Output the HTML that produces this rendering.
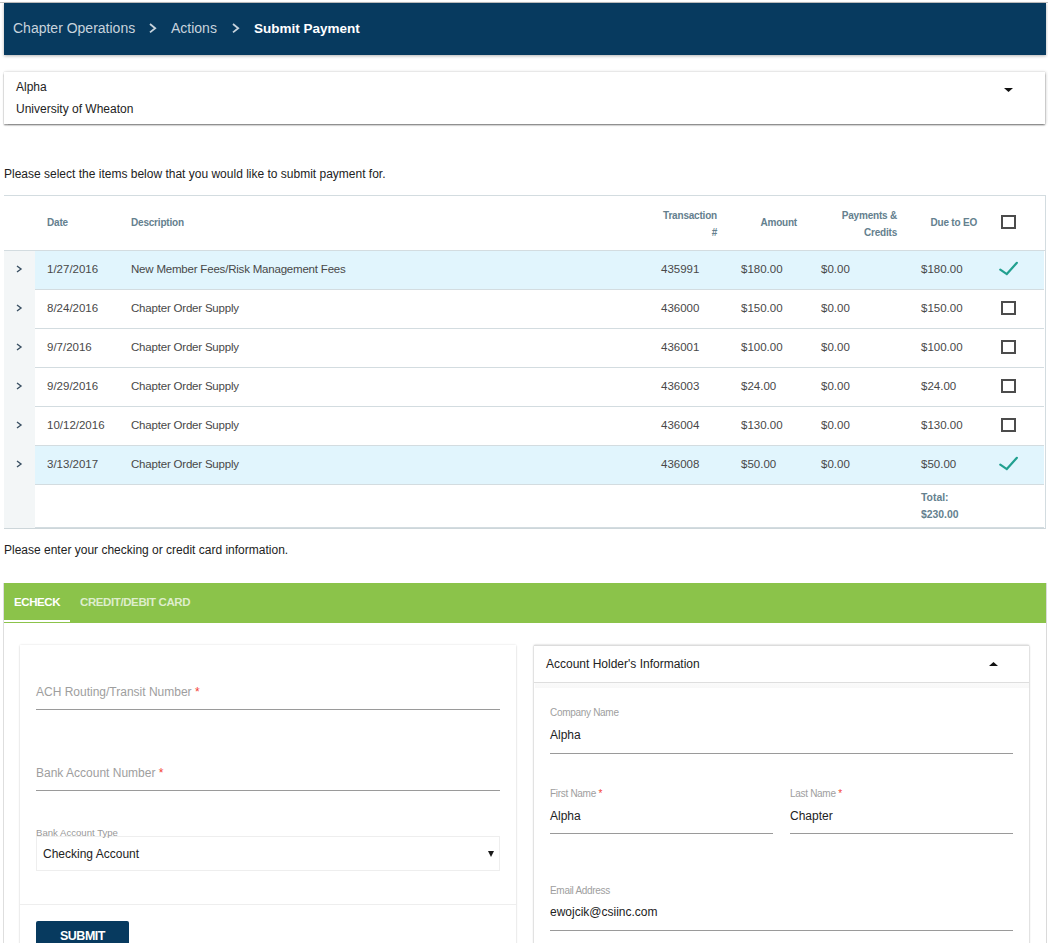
<!DOCTYPE html><html><head><meta charset="utf-8"><style>
*{box-sizing:border-box;margin:0;padding:0}
html,body{width:1048px;height:943px;overflow:hidden;background:#fff}
body{position:relative;font-family:"Liberation Sans",sans-serif;color:#222;font-size:12px}
.a{position:absolute}
.topline{left:0;top:2px;width:1048px;height:1px;background:#c4c4c4}
.hdr{left:4px;top:3px;width:1042px;height:52px;background:#073a5f;box-shadow:0 1px 3px rgba(0,0,0,.3)}
.hdr span{position:absolute;top:-1px;line-height:52px;font-size:14px;color:#c7d3dd;white-space:nowrap}
.hdr .cur{color:#fff;font-weight:bold;font-size:13.5px;top:0}
.card1{left:4px;top:72px;width:1041px;height:52px;background:#fff;box-shadow:0 1.5px 1.5px rgba(0,0,0,.38),1px 0 3px rgba(0,0,0,.16),0 0 1px rgba(0,0,0,.2)}
.t12{font-size:12px;white-space:nowrap;color:#222;line-height:14px}
.tbl{left:4px;top:195px;width:1042px;height:334px;border-top:1px solid #d3dce0;border-bottom:1px solid #cdd6da;border-right:1px solid #d3dce0}
.expcol{left:0;top:55px;width:31px;height:277px;background:#f3f6f7}
.row{position:absolute;left:31px;width:1009px;height:39px;border-bottom:1px solid #d3dce0}
.row.sel{background:#e1f5fd}
.cell{position:absolute;top:-1px;line-height:38px;font-size:11.5px;color:#484848;white-space:nowrap}
.th{position:absolute;font-size:10px;letter-spacing:-0.2px;font-weight:bold;color:#64808e;white-space:nowrap;line-height:17px}
.cb{position:absolute;width:15px;height:14px;border:2px solid #4c4c4c}
.tabs{left:4px;top:583px;width:1042px;height:40px;background:#8bc34a}
.tab{position:absolute;top:-1px;line-height:40px;font-size:11.5px;letter-spacing:-0.4px;font-weight:bold;white-space:nowrap}
.panel{left:3px;top:583px;width:1044px;height:370px;background:#fff;border-left:1px solid #dedede;border-right:1px solid #dadada}
.lcard{left:20px;top:645px;width:496px;height:310px;background:#fff;box-shadow:0 0 2px rgba(0,0,0,.12),0 1px 2px rgba(0,0,0,.1)}
.rcard{left:534px;top:645px;width:495px;height:310px;background:#fff;box-shadow:0 0 2px rgba(0,0,0,.22),0 1px 2px rgba(0,0,0,.14)}
.lbl{position:absolute;font-size:12px;color:#9e9e9e;white-space:nowrap;line-height:14px}
.req{color:#f44336}
.ul{position:absolute;height:1px;background:#9a9a9a}
.sl{position:absolute;margin-top:-1px;font-size:9.6px;color:#9e9e9e;white-space:nowrap;line-height:11px}
.val{position:absolute;font-size:12px;color:#222;white-space:nowrap;line-height:14px}
</style></head><body>
<div class="a topline"></div>
<div class="a hdr">
<span style="left:9px">Chapter Operations</span>
<svg class="a" style="left:144.8px;top:20.1px" width="9" height="12" viewBox="0 0 9 12"><path d="M1 1L6.2 5.2L1 9.4" fill="none" stroke="#c7d3dd" stroke-width="1.8"/></svg>
<span style="left:167px">Actions</span>
<svg class="a" style="left:227.8px;top:20.1px" width="9" height="12" viewBox="0 0 9 12"><path d="M1 1L6.2 5.2L1 9.4" fill="none" stroke="#c7d3dd" stroke-width="1.8"/></svg>
<span class="cur" style="left:250px">Submit Payment</span>
</div>
<div class="a card1">
<div class="a t12" style="left:12px;top:8px">Alpha</div>
<div class="a t12" style="left:12px;top:30px">University of Wheaton</div>
<svg class="a" style="left:1000px;top:16px" width="9" height="4" viewBox="0 0 9 4"><path d="M0 0H9L4.5 4Z" fill="#111"/></svg>
</div>
<div class="a t12" style="left:4px;top:167px">Please select the items below that you would like to submit payment for.</div>
<div class="a tbl">
<div class="a expcol"></div>
<div class="th" style="left:43px;top:18px">Date</div>
<div class="th" style="left:127px;top:18px">Description</div>
<div class="th" style="left:640px;top:11px;width:73px;text-align:right">Transaction<br>#</div>
<div class="th" style="left:720px;top:18px;width:73px;text-align:right">Amount</div>
<div class="th" style="left:800px;top:11px;width:93px;text-align:right">Payments &amp;<br>Credits</div>
<div class="th" style="left:900px;top:18px;width:73px;text-align:right">Due to EO</div>
<div class="cb" style="left:997px;top:19px"></div>
<div class="a" style="left:0;top:54px;width:1041px;height:1px;background:#d3dce0"></div>
<div class="row" style="top:289px;height:43px"></div>
<div class="row sel" style="top:55px">
<div class="cell" style="left:12px">1/27/2016</div>
<div class="cell" style="left:96px;letter-spacing:-0.2px">New Member Fees/Risk Management Fees</div>
<div class="cell" style="left:626px">435991</div>
<div class="cell" style="left:706px">$180.00</div>
<div class="cell" style="left:786px">$0.00</div>
<div class="cell" style="left:886px">$180.00</div>
<svg class="a" style="left:962px;top:9px" width="22" height="18" viewBox="0 0 22 18"><path d="M3.3 9.6L9.8 14.1L19.9 2.8" fill="none" stroke="#22a090" stroke-width="2.2" stroke-linecap="round"/></svg>
</div>
<svg class="a" style="left:12.3px;top:69.2px" width="7" height="9" viewBox="0 0 7 9"><path d="M1 1L5 4L1 7" fill="none" stroke="#3a5063" stroke-width="1.4"/></svg>
<div class="row" style="top:94px">
<div class="cell" style="left:12px">8/24/2016</div>
<div class="cell" style="left:96px;letter-spacing:-0.2px">Chapter Order Supply</div>
<div class="cell" style="left:626px">436000</div>
<div class="cell" style="left:706px">$150.00</div>
<div class="cell" style="left:786px">$0.00</div>
<div class="cell" style="left:886px">$150.00</div>
<div class="cb" style="left:966px;top:11px"></div>
</div>
<svg class="a" style="left:12.3px;top:108.2px" width="7" height="9" viewBox="0 0 7 9"><path d="M1 1L5 4L1 7" fill="none" stroke="#3a5063" stroke-width="1.4"/></svg>
<div class="row" style="top:133px">
<div class="cell" style="left:12px">9/7/2016</div>
<div class="cell" style="left:96px;letter-spacing:-0.2px">Chapter Order Supply</div>
<div class="cell" style="left:626px">436001</div>
<div class="cell" style="left:706px">$100.00</div>
<div class="cell" style="left:786px">$0.00</div>
<div class="cell" style="left:886px">$100.00</div>
<div class="cb" style="left:966px;top:11px"></div>
</div>
<svg class="a" style="left:12.3px;top:147.2px" width="7" height="9" viewBox="0 0 7 9"><path d="M1 1L5 4L1 7" fill="none" stroke="#3a5063" stroke-width="1.4"/></svg>
<div class="row" style="top:172px">
<div class="cell" style="left:12px">9/29/2016</div>
<div class="cell" style="left:96px;letter-spacing:-0.2px">Chapter Order Supply</div>
<div class="cell" style="left:626px">436003</div>
<div class="cell" style="left:706px">$24.00</div>
<div class="cell" style="left:786px">$0.00</div>
<div class="cell" style="left:886px">$24.00</div>
<div class="cb" style="left:966px;top:11px"></div>
</div>
<svg class="a" style="left:12.3px;top:186.2px" width="7" height="9" viewBox="0 0 7 9"><path d="M1 1L5 4L1 7" fill="none" stroke="#3a5063" stroke-width="1.4"/></svg>
<div class="row" style="top:211px">
<div class="cell" style="left:12px">10/12/2016</div>
<div class="cell" style="left:96px;letter-spacing:-0.2px">Chapter Order Supply</div>
<div class="cell" style="left:626px">436004</div>
<div class="cell" style="left:706px">$130.00</div>
<div class="cell" style="left:786px">$0.00</div>
<div class="cell" style="left:886px">$130.00</div>
<div class="cb" style="left:966px;top:11px"></div>
</div>
<svg class="a" style="left:12.3px;top:225.2px" width="7" height="9" viewBox="0 0 7 9"><path d="M1 1L5 4L1 7" fill="none" stroke="#3a5063" stroke-width="1.4"/></svg>
<div class="row sel" style="top:250px">
<div class="cell" style="left:12px">3/13/2017</div>
<div class="cell" style="left:96px;letter-spacing:-0.2px">Chapter Order Supply</div>
<div class="cell" style="left:626px">436008</div>
<div class="cell" style="left:706px">$50.00</div>
<div class="cell" style="left:786px">$0.00</div>
<div class="cell" style="left:886px">$50.00</div>
<svg class="a" style="left:962px;top:9px" width="22" height="18" viewBox="0 0 22 18"><path d="M3.3 9.6L9.8 14.1L19.9 2.8" fill="none" stroke="#22a090" stroke-width="2.2" stroke-linecap="round"/></svg>
</div>
<svg class="a" style="left:12.3px;top:264.2px" width="7" height="9" viewBox="0 0 7 9"><path d="M1 1L5 4L1 7" fill="none" stroke="#3a5063" stroke-width="1.4"/></svg>
<div class="th" style="left:917px;top:293px;line-height:17px;font-size:10.4px;letter-spacing:0">Total:<br>$230.00</div>
</div>
<div class="a t12" style="left:4px;top:543px">Please enter your checking or credit card information.</div>
<div class="a panel"></div>
<div class="a tabs">
<div class="tab" style="left:10px;color:#fff">ECHECK</div>
<div class="tab" style="left:76px;color:rgba(255,255,255,.72)">CREDIT/DEBIT CARD</div>
<div class="a" style="left:0;top:37px;width:66px;height:2px;background:#fff"></div>
</div>
<div class="a lcard">
<div class="lbl" style="left:16px;top:40px">ACH Routing/Transit Number <span class="req">*</span></div>
<div class="ul" style="left:16px;top:64px;width:464px"></div>
<div class="lbl" style="left:16px;top:121px">Bank Account Number <span class="req">*</span></div>
<div class="ul" style="left:16px;top:145px;width:464px"></div>
<div class="a" style="left:16px;top:191px;width:464px;height:35px;border:1px solid #eee"></div>
<div class="sl" style="left:16px;top:183px;color:#999">Bank Account Type</div>
<div class="val" style="left:23px;top:202px">Checking Account</div>
<svg class="a" style="left:468.2px;top:206px" width="6" height="6" viewBox="0 0 6 6"><path d="M0 0H6L3 6Z" fill="#1a1a1a"/></svg>
<div class="a" style="left:0;top:259px;width:496px;height:1px;background:#eee"></div>
<div class="a" style="left:16px;top:276px;width:93px;height:40px;background:#073a5f;border-radius:2px"></div>
<div class="a" style="left:40px;top:284px;font-size:12.5px;letter-spacing:-0.5px;font-weight:bold;color:#fff;line-height:14px">SUBMIT</div>
</div>
<div class="a rcard">
<div class="a" style="left:0;top:0;width:495px;height:1px;background:#dcdcdc"></div>
<div class="val" style="left:12px;top:12px">Account Holder's Information</div>
<svg class="a" style="left:455px;top:17px" width="9" height="4" viewBox="0 0 9 4"><path d="M0 4H9L4.5 0Z" fill="#111"/></svg>
<div class="a" style="left:0;top:37px;width:495px;height:1px;background:#dedede"></div>
<div class="a" style="left:1px;top:38px;width:494px;height:5px;background:linear-gradient(#fafafa,#f8f8f8)"></div>
<div class="sl" style="left:16px;top:63px;font-size:10px;letter-spacing:-0.3px">Company Name</div>
<div class="val" style="left:16px;top:83px">Alpha</div>
<div class="ul" style="left:16px;top:108px;width:463px"></div>
<div class="sl" style="left:16px;top:144px;font-size:10px;letter-spacing:-0.3px">First Name <span class="req">*</span></div>
<div class="val" style="left:16px;top:164px">Alpha</div>
<div class="ul" style="left:16px;top:188px;width:223px"></div>
<div class="sl" style="left:256px;top:144px;font-size:10px;letter-spacing:-0.3px">Last Name <span class="req">*</span></div>
<div class="val" style="left:256px;top:164px">Chapter</div>
<div class="ul" style="left:256px;top:188px;width:223px"></div>
<div class="sl" style="left:16px;top:241px;font-size:10px;letter-spacing:-0.3px">Email Address</div>
<div class="val" style="left:16px;top:260px">ewojcik@csiinc.com</div>
<div class="ul" style="left:16px;top:285px;width:463px"></div>
</div>
</body></html>
